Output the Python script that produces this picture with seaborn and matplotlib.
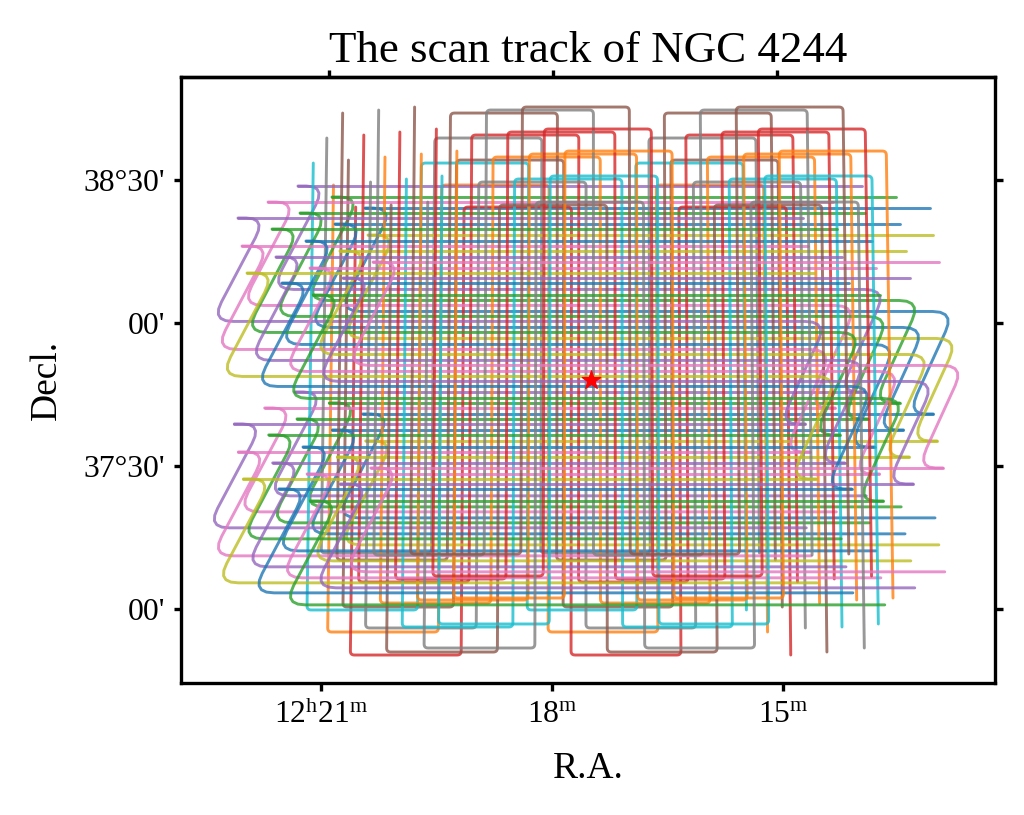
import numpy as np
import pandas as pd
import matplotlib
matplotlib.use("Agg")
import matplotlib.pyplot as plt
import seaborn as sns

# scans along R.A. (minutes of 12h, dec in arcmin from 38d), blue/green/purple/pink/olive
h_ra_left = [20.499, 20.940, 21.395, 21.790, 20.455,
             20.895, 21.362, 22.186, 22.126, 20.825,
             21.278, 21.731, 21.673, 21.219, 22.053,
             21.587, 21.174, 20.779, 20.384]
h_ra_right = [12.989, 13.430, 13.885, 14.280, 12.945,
              13.385, 13.852, 14.676, 14.616, 13.315,
              13.768, 14.221, 14.163, 13.709, 14.543,
              14.077, 13.664, 13.269, 12.874]
h_ra_turn = [12.772, 13.213, 13.668, 14.063, 12.728,
             13.168, 13.635, 14.459, 14.399, 13.098,
             13.551, 14.004, 13.946, 13.492, 14.326,
             13.860, 13.447, 13.052, 12.657]
h_dec = [[24.12, 2.42, -19.08, -40.88], [26.43, 4.73, -16.77, -38.57],
         [28.74, 7.04, -14.46, -36.26], [25.38, 3.68, -17.82, -39.62],
         [18.46, -3.24, -24.74, -46.54], [20.77, -0.93, -22.43, -44.23],
         [23.08, 1.38, -20.12, -41.92], [22.03, 0.33, -21.17, -42.97],
         [16.15, -5.55, -27.05, -48.85], [15.10, -6.60, -28.10, -49.90],
         [17.20, -4.50, -26.00, -47.80], [19.72, -1.98, -23.48, -45.28],
         [13.85, -7.85, -29.35, -51.15], [11.54, -10.16, -31.66, -53.46],
         [10.49, -11.21, -32.71, -54.51], [8.39, -13.31, -34.81, -56.61],
         [5.87, -15.83, -37.33, -59.13], [9.44, -12.26, -33.76, -55.56],
         [12.80, -8.90, -30.40, -52.20]]

# scans along Dec., orange/red/brown/gray/cyan
v_ra = [[20.922, 19.481, 18.052, 16.623, 15.195], [20.623, 19.182, 17.753, 16.324, 14.896],
        [20.727, 19.286, 17.857, 16.428, 15.000], [21.019, 19.578, 18.149, 16.720, 15.292],
        [21.195, 19.754, 18.325, 16.896, 15.468], [20.240, 18.799, 17.370, 15.941, 14.513],
        [20.526, 19.085, 17.656, 16.227, 14.799], [20.812, 19.371, 17.942, 16.513, 15.085],
        [20.429, 18.988, 17.559, 16.130, 14.702], [19.952, 18.511, 17.082, 15.653, 14.225],
        [19.756, 18.315, 16.886, 15.457, 14.029], [20.045, 18.604, 17.175, 15.746, 14.318],
        [20.152, 18.711, 17.282, 15.853, 14.425], [20.331, 18.890, 17.461, 16.032, 14.604],
        [19.478, 18.037, 16.608, 15.179, 13.751], [19.282, 17.841, 16.412, 14.983, 13.555],
        [19.558, 18.117, 16.688, 15.259, 13.831], [19.851, 18.410, 16.981, 15.552, 14.124],
        [19.665, 18.224, 16.795, 15.366, 13.938]]
v_top = [28.95, 24.33, 34.19, 38.81, 33.56, 34.82, 39.44, 44.05, 29.58, 30.21,
         35.45, 40.07, 24.75, 44.68, 30.84, 36.08, 40.70, 45.31, 25.38]
v_bottom = [-64.82, -69.65, -59.58, -48.25, -60.20, -58.74, -54.33, -49.72, -63.98, -63.77,
            -58.11, -53.70, -69.02, -48.67, -63.14, -57.69, -53.07, -48.46, -68.18]

star_ra = 17.49
star_dec = -12.0
ra_ticks = [21, 18, 15]
ra_labels = [r"$\mathrm{12^{h}21^{m}}$", r"$\mathrm{18^{m}}$", r"$\mathrm{15^{m}}$"]
dec_ticks = [30, 0, -30, -60]
dec_labels = ["38°30'", "00'", "37°30'", "00'"]

RA_C = 17.506
X_SCALE = 77.0   # px per minute, used for corner rounding only
Y_SCALE = 4.767  # px per arcmin


def project(ra, dec):
    # meridians converge towards the top of the map
    return RA_C + (np.asarray(ra, dtype=float) - RA_C) * (0.98218 - 0.000236 * np.asarray(dec, dtype=float))


def rounded(ra, dec, r):
    x = project(ra, dec) * X_SCALE
    y = np.asarray(dec, dtype=float) * Y_SCALE
    px, py = [x[0]], [y[0]]
    for i in range(1, len(x) - 1):
        a = np.array([x[i - 1] - x[i], y[i - 1] - y[i]])
        b = np.array([x[i + 1] - x[i], y[i + 1] - y[i]])
        ra_ = min(r, np.hypot(*a) * 0.7)
        rb = min(r, np.hypot(*b) * 0.7)
        p0 = np.array([x[i], y[i]]) + a / np.hypot(*a) * ra_
        p2 = np.array([x[i], y[i]]) + b / np.hypot(*b) * rb
        for t in (0, 0.2, 0.4, 0.6, 0.8, 1):
            q = (1 - t) ** 2 * p0 + 2 * t * (1 - t) * np.array([x[i], y[i]]) + t ** 2 * p2
            px.append(q[0])
            py.append(q[1])
    px.append(x[-1])
    py.append(y[-1])
    return np.array(px) / X_SCALE, np.array(py) / Y_SCALE


def h_track(left, right, turn, decs):
    d1, d2, d3, d4 = decs
    pieces = [
        ([left, right], [d1, d1], 0),
        ([left, left - 0.37, left + 0.33, turn - 0.09, turn + 0.55, right],
         [d1, d1, d2, d2, d3, d3], 22),
        ([left, right], [d3, d3], 0),
        ([left, left - 0.37, left + 0.33, right], [d3, d3, d4, d4], 22),
    ]
    rows = []
    for n, (r, d, rad) in enumerate(pieces):
        x, y = rounded(r, d, rad) if rad else (project(r, d), np.array(d, dtype=float))
        rows.append(pd.DataFrame({"x": x, "y": y, "piece": n}))
    return pd.concat(rows)


def v_track(legs, top, bottom):
    r = [legs[0], legs[0], legs[1], legs[1], legs[2], legs[2], legs[3], legs[3], legs[4], legs[4]]
    d = [top, bottom, bottom, top, top, bottom, bottom, top, top, bottom]
    x, y = rounded(r, d, 4)
    return pd.DataFrame({"x": x, "y": y, "piece": 0})


sns.set_style("ticks")
plt.rcParams["font.family"] = ["Liberation Serif", "DejaVu Serif"]
plt.rcParams["mathtext.fontset"] = "custom"
plt.rcParams["mathtext.rm"] = "Liberation Serif"
plt.rcParams["axes.edgecolor"] = "black"
plt.rcParams["axes.labelcolor"] = "black"
plt.rcParams["text.color"] = "black"
plt.rcParams["xtick.color"] = "black"
plt.rcParams["ytick.color"] = "black"

fig = plt.figure(figsize=(1024 / 300, 815 / 300), dpi=300)
ax = fig.add_axes([181 / 1024, 1 - 683 / 815, 814 / 1024, 606 / 815])

colors = sns.color_palette("tab10")
n = 0
for i in range(19):
    d = h_track(h_ra_left[i], h_ra_right[i], h_ra_turn[i], h_dec[i])
    sns.lineplot(data=d, x="x", y="y", units="piece", estimator=None, sort=False,
                 color=colors[n % 10], lw=0.7, alpha=0.8, ax=ax, legend=False)
    n += 1
    d = v_track(v_ra[i], v_top[i], v_bottom[i])
    sns.lineplot(data=d, x="x", y="y", units="piece", estimator=None, sort=False,
                 color=colors[n % 10], lw=0.7, alpha=0.8, ax=ax, legend=False)
    n += 1
sns.scatterplot(x=[float(project(star_ra, star_dec))], y=[star_dec], marker="*", s=22,
                color="red", edgecolor="red", linewidth=0.3, zorder=5, ax=ax, legend=False)

ax.set_xlim(22.818, 12.247)
ax.set_ylim(-75.52, 51.61)
ax.set_xticks(ra_ticks)
ax.set_xticklabels(ra_labels, fontsize=7.6, color="black")
ax.set_yticks(dec_ticks)
ax.set_yticklabels(dec_labels, fontsize=7.6, color="black")
ax.tick_params(axis="x", direction="out", length=1.8, width=0.8, pad=2.2)
ax.tick_params(axis="y", direction="out", length=1.8, width=0.8, pad=2, left=True, right=True)
ax.set_xlabel("R.A.", fontsize=9, labelpad=5.3, color="black")
ax.set_ylabel("Decl.", fontsize=9, labelpad=4.8, color="black")
top = ax.secondary_xaxis("top")
top.set_xticks([float(project(t, 51.61)) for t in ra_ticks])
top.set_xticklabels([])
top.tick_params(direction="out", length=1.8, width=0.8)
ax.set_title("The scan track of NGC 4244", fontsize=10.8, pad=3.5, color="black")
fig.savefig("out.png", dpi=300)
